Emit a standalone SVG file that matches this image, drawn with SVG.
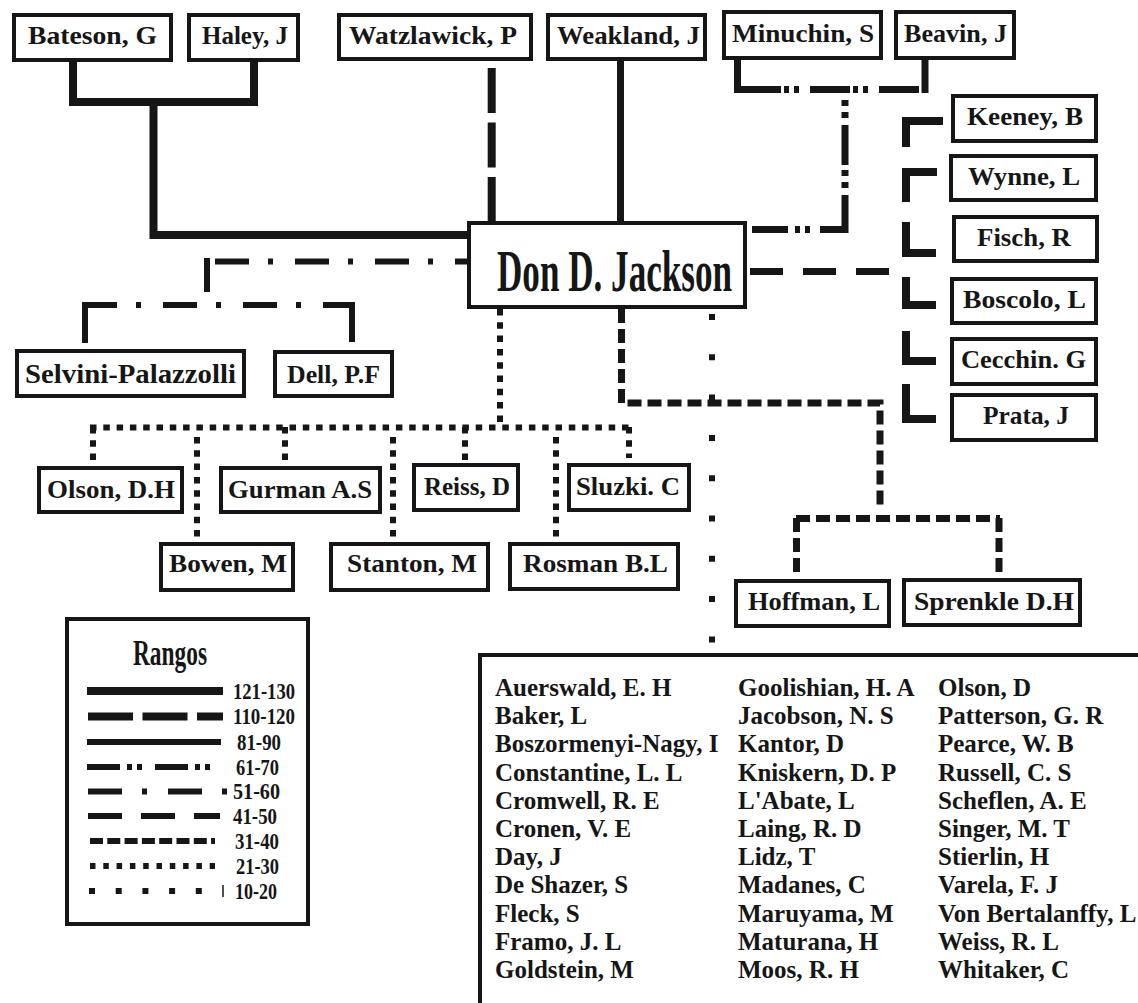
<svg xmlns="http://www.w3.org/2000/svg" width="1138" height="1003" viewBox="0 0 1138 1003">
<style>
.box{fill:#fff;stroke:#161616;stroke-width:4}
.lbl{font-family:"Liberation Serif","Times New Roman",serif;font-weight:bold;font-size:26px;fill:#161616}
.big{font-family:"Liberation Serif","Times New Roman",serif;font-weight:bold;font-size:60px;fill:#161616}
.lg{font-family:"Liberation Serif","Times New Roman",serif;font-weight:bold;font-size:23px;fill:#161616}
.li{font-family:"Liberation Serif","Times New Roman",serif;font-weight:bold;font-size:25px;fill:#161616}
.ln{fill:none;stroke:#161616;stroke-linecap:butt;stroke-linejoin:miter}
.s121{stroke-width:8}
.s110{stroke-width:8;stroke-dasharray:45 9.5}
.s81{stroke-width:7}
.s61{stroke-width:7}
.s51{stroke-width:6;stroke-dasharray:34 19 5 22}
.s41{stroke-width:7;stroke-dasharray:33 20}
.s31{stroke-width:7;stroke-dasharray:14 6}
.s21{stroke-width:6;stroke-dasharray:6.5 6.8}
.s10{stroke-width:6;stroke-dasharray:6 34.3}
</style>
<rect x="0" y="0" width="1138" height="1003" fill="#fff"/>
<g id="connectors">
  <path class="ln s121" d="M73,62 V102 H254 V62"/>
  <path class="ln s121" d="M153.5,102 V235 H467"/>
  <path class="ln s110" d="M491.7,68 V221"/>
  <path class="ln s81" d="M620.5,61 V221"/>
  <path class="ln s61" d="M737.5,60 V93"/>
  <path class="ln s61" d="M925,60 V93"/>
  <path class="ln s61" d="M741,89.5 H922" stroke-dasharray="40 3 5 5 5 11"/>
  <path class="ln s61" d="M845,100 V233" stroke-dasharray="6 6 6 7 40 5"/>
  <path class="ln s61" d="M752,229.5 H848" stroke-dasharray="36 7 5 5 5 10"/>
  <path class="ln s41" d="M750,271.5 H892"/>
  <path class="ln s121" d="M906,147 V121 H943"/>
  <path class="ln s121" d="M906,202 V172 H937"/>
  <path class="ln s121" d="M906,222 V253 H936"/>
  <path class="ln s121" d="M906,277 V305 H936"/>
  <path class="ln s121" d="M906,331 V361 H936"/>
  <path class="ln s121" d="M906,384 V419 H936"/>
  <path class="ln s51" d="M215,261.5 H467"/>
  <path class="ln" stroke-width="6" d="M207,258 V292"/>
  <path class="ln s51" d="M83,305 H353"/>
  <path class="ln" stroke-width="6" d="M85,302 V343"/>
  <path class="ln" stroke-width="6" d="M352,302 V342"/>
  <path class="ln s21" d="M500,309 V425"/>
  <path class="ln s21" d="M90,427.5 H632"/>
  <path class="ln s21" d="M93,427 V460"/>
  <path class="ln s21" d="M197,437 V538"/>
  <path class="ln s21" d="M285,427 V463"/>
  <path class="ln s21" d="M393,437 V538"/>
  <path class="ln s21" d="M465,427 V463"/>
  <path class="ln s21" d="M556,437 V538"/>
  <path class="ln s21" d="M629,427 V458"/>
  <path class="ln s31" d="M621.5,309 V403 H880 V509"/>
  <path class="ln s31" d="M796,518.5 H1000"/>
  <path class="ln s31" d="M796.5,518 V576"/>
  <path class="ln s31" d="M999,518 V574"/>
  <path class="ln s10" d="M712,314 V645"/>
</g>
<g id="n-bateson"><rect class="box" x="14" y="15" width="157" height="45"/><text class="lbl" x="28" y="44" textLength="129" lengthAdjust="spacingAndGlyphs">Bateson, G</text></g>
<g id="n-haley"><rect class="box" x="189" y="15" width="109" height="45"/><text class="lbl" x="202" y="44" textLength="86" lengthAdjust="spacingAndGlyphs">Haley, J</text></g>
<g id="n-watzlawick"><rect class="box" x="339" y="15" width="192" height="44"/><text class="lbl" x="349" y="44" textLength="168" lengthAdjust="spacingAndGlyphs">Watzlawick, P</text></g>
<g id="n-weakland"><rect class="box" x="548" y="15" width="157" height="44"/><text class="lbl" x="557" y="44" textLength="143" lengthAdjust="spacingAndGlyphs">Weakland, J</text></g>
<g id="n-minuchin"><rect class="box" x="724" y="12" width="157" height="46"/><text class="lbl" x="732" y="42" textLength="142" lengthAdjust="spacingAndGlyphs">Minuchin, S</text></g>
<g id="n-beavin"><rect class="box" x="896" y="12" width="118" height="46"/><text class="lbl" x="904" y="42" textLength="103" lengthAdjust="spacingAndGlyphs">Beavin, J</text></g>
<g id="n-keeney"><rect class="box" x="953" y="96" width="143" height="45"/><text class="lbl" x="967" y="125" textLength="116" lengthAdjust="spacingAndGlyphs">Keeney, B</text></g>
<g id="n-wynne"><rect class="box" x="951" y="156" width="145" height="44"/><text class="lbl" x="968" y="185" textLength="112" lengthAdjust="spacingAndGlyphs">Wynne, L</text></g>
<g id="n-fisch"><rect class="box" x="954" y="217" width="143" height="44"/><text class="lbl" x="977" y="246" textLength="94" lengthAdjust="spacingAndGlyphs">Fisch, R</text></g>
<g id="n-boscolo"><rect class="box" x="952" y="279" width="144" height="44"/><text class="lbl" x="963" y="308" textLength="123" lengthAdjust="spacingAndGlyphs">Boscolo, L</text></g>
<g id="n-cecchin"><rect class="box" x="952" y="339" width="144" height="45"/><text class="lbl" x="961" y="368" textLength="125" lengthAdjust="spacingAndGlyphs">Cecchin. G</text></g>
<g id="n-prata"><rect class="box" x="952" y="395" width="144" height="45"/><text class="lbl" x="983" y="424" textLength="86" lengthAdjust="spacingAndGlyphs">Prata, J</text></g>
<g id="n-jackson"><rect class="box" x="469" y="223" width="276" height="84"/><text class="big" x="497" y="291" textLength="235" lengthAdjust="spacingAndGlyphs">Don D. Jackson</text></g>
<g id="n-selvini"><rect class="box" x="17" y="351" width="227" height="45"/><text class="lbl" x="25" y="383" textLength="211" lengthAdjust="spacingAndGlyphs" style="font-size:27px">Selvini-Palazzolli</text></g>
<g id="n-dell"><rect class="box" x="275" y="352" width="117" height="44"/><text class="lbl" x="287" y="383" textLength="93" lengthAdjust="spacingAndGlyphs">Dell, P.F</text></g>
<g id="n-olson"><rect class="box" x="39" y="468" width="143" height="44"/><text class="lbl" x="47" y="498" textLength="128" lengthAdjust="spacingAndGlyphs">Olson, D.H</text></g>
<g id="n-gurman"><rect class="box" x="221" y="468" width="159" height="44"/><text class="lbl" x="228" y="498" textLength="144" lengthAdjust="spacingAndGlyphs">Gurman A.S</text></g>
<g id="n-reiss"><rect class="box" x="414" y="465" width="104" height="45"/><text class="lbl" x="424" y="495" textLength="86" lengthAdjust="spacingAndGlyphs">Reiss, D</text></g>
<g id="n-sluzki"><rect class="box" x="569" y="465" width="120" height="45"/><text class="lbl" x="576" y="495" textLength="104" lengthAdjust="spacingAndGlyphs">Sluzki. C</text></g>
<g id="n-bowen"><rect class="box" x="161" y="544" width="132" height="46"/><text class="lbl" x="169" y="572" textLength="118" lengthAdjust="spacingAndGlyphs">Bowen, M</text></g>
<g id="n-stanton"><rect class="box" x="331" y="544" width="157" height="46"/><text class="lbl" x="347" y="572" textLength="130" lengthAdjust="spacingAndGlyphs">Stanton, M</text></g>
<g id="n-rosman"><rect class="box" x="510" y="544" width="168" height="45"/><text class="lbl" x="523" y="572" textLength="145" lengthAdjust="spacingAndGlyphs">Rosman B.L</text></g>
<g id="n-hoffman"><rect class="box" x="736" y="581" width="153" height="45"/><text class="lbl" x="748" y="610" textLength="132" lengthAdjust="spacingAndGlyphs">Hoffman, L</text></g>
<g id="n-sprenkle"><rect class="box" x="904" y="580" width="176" height="45"/><text class="lbl" x="914" y="610" textLength="160" lengthAdjust="spacingAndGlyphs">Sprenkle D.H</text></g>
<g id="legend">
  <rect class="box" x="67" y="619" width="241" height="305"/>
  <text class="big" x="133" y="665" textLength="74" lengthAdjust="spacingAndGlyphs" style="font-size:35px">Rangos</text>
  <path class="ln s121" d="M87,691 H223"/>
  <path class="ln s110" d="M88,716.5 H223" stroke-dasharray="44 9"/>
  <path class="ln" stroke-width="6" d="M87,742 H221"/>
  <path class="ln" stroke-width="6" d="M87,767 H216" stroke-dasharray="33 7 5 5 5 13"/>
  <path class="ln" stroke-width="6" d="M88,791.5 H228" stroke-dasharray="34 20 5 21"/>
  <path class="ln" stroke-width="6" d="M88,816 H220" stroke-dasharray="34 19"/>
  <path class="ln" stroke-width="6" d="M90,841 H215" stroke-dasharray="13 4.3"/>
  <path class="ln" stroke-width="6" d="M90,866 H215" stroke-dasharray="5.5 7.8"/>
  <path class="ln" stroke-width="6" d="M89,891 H203" stroke-dasharray="6 20.7"/>
  <path class="ln" stroke-width="1.5" d="M223,885 V897"/>
  <text class="lg" x="233" y="699" textLength="62" lengthAdjust="spacingAndGlyphs">121-130</text>
  <text class="lg" x="233" y="724" textLength="62" lengthAdjust="spacingAndGlyphs">110-120</text>
  <text class="lg" x="237" y="750" textLength="44" lengthAdjust="spacingAndGlyphs">81-90</text>
  <text class="lg" x="236" y="775" textLength="43" lengthAdjust="spacingAndGlyphs">61-70</text>
  <text class="lg" x="233" y="799" textLength="47" lengthAdjust="spacingAndGlyphs">51-60</text>
  <text class="lg" x="233" y="824" textLength="44" lengthAdjust="spacingAndGlyphs">41-50</text>
  <text class="lg" x="235" y="849" textLength="44" lengthAdjust="spacingAndGlyphs">31-40</text>
  <text class="lg" x="236" y="874" textLength="43" lengthAdjust="spacingAndGlyphs">21-30</text>
  <text class="lg" x="235" y="899" textLength="42" lengthAdjust="spacingAndGlyphs">10-20</text>
</g>
<g id="list">
  <rect class="box" x="480" y="655" width="720" height="400"/>
  <g class="li">
    <text x="495" y="696">Auerswald, E. H</text>
    <text x="495" y="724.2">Baker, L</text>
    <text x="495" y="752.4">Boszormenyi-Nagy, I</text>
    <text x="495" y="780.6">Constantine, L. L</text>
    <text x="495" y="808.8">Cromwell, R. E</text>
    <text x="495" y="837">Cronen, V. E</text>
    <text x="495" y="865.2">Day, J</text>
    <text x="495" y="893.4">De Shazer, S</text>
    <text x="495" y="921.6">Fleck, S</text>
    <text x="495" y="949.8">Framo, J. L</text>
    <text x="495" y="978">Goldstein, M</text>
    <text x="738" y="696">Goolishian, H. A</text>
    <text x="738" y="724.2">Jacobson, N. S</text>
    <text x="738" y="752.4">Kantor, D</text>
    <text x="738" y="780.6">Kniskern, D. P</text>
    <text x="738" y="808.8">L'Abate, L</text>
    <text x="738" y="837">Laing, R. D</text>
    <text x="738" y="865.2">Lidz, T</text>
    <text x="738" y="893.4">Madanes, C</text>
    <text x="738" y="921.6">Maruyama, M</text>
    <text x="738" y="949.8">Maturana, H</text>
    <text x="738" y="978">Moos, R. H</text>
    <text x="938" y="696">Olson, D</text>
    <text x="938" y="724.2">Patterson, G. R</text>
    <text x="938" y="752.4">Pearce, W. B</text>
    <text x="938" y="780.6">Russell, C. S</text>
    <text x="938" y="808.8">Scheflen, A. E</text>
    <text x="938" y="837">Singer, M. T</text>
    <text x="938" y="865.2">Stierlin, H</text>
    <text x="938" y="893.4">Varela, F. J</text>
    <text x="938" y="921.6">Von Bertalanffy, L</text>
    <text x="938" y="949.8">Weiss, R. L</text>
    <text x="938" y="978">Whitaker, C</text>
  </g>
</g>
</svg>
